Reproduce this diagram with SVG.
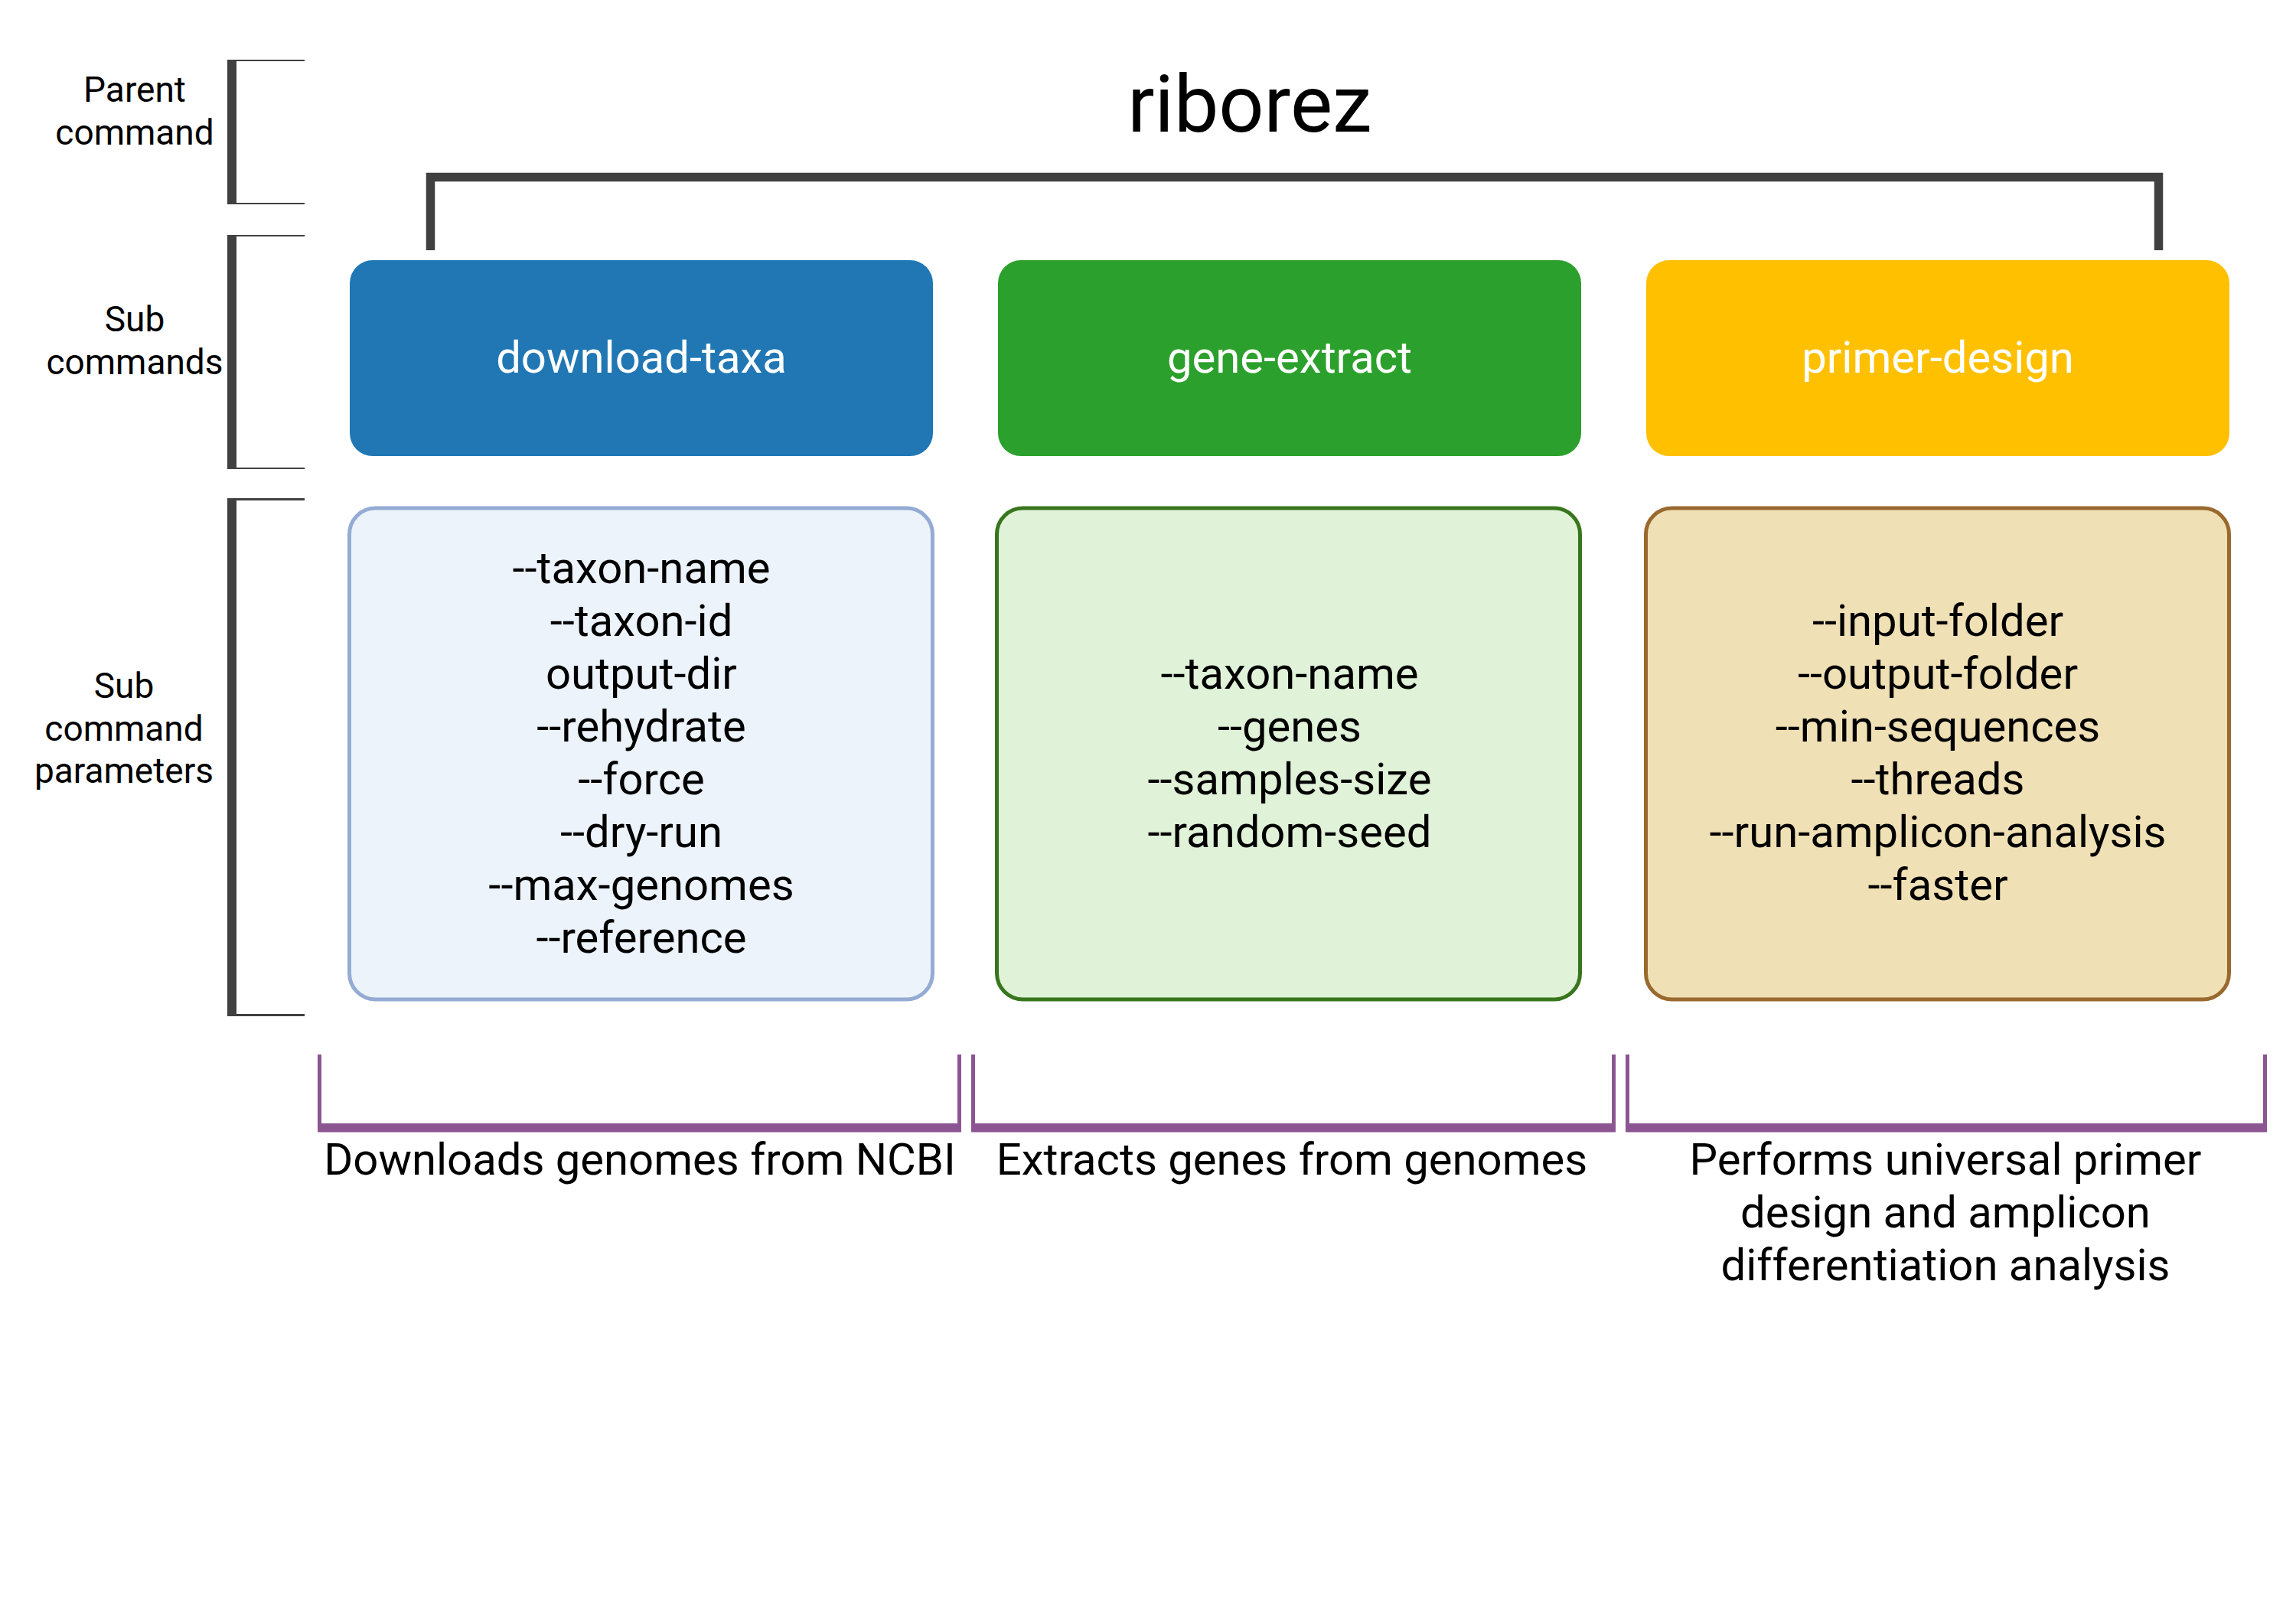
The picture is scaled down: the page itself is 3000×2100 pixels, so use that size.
<svg xmlns="http://www.w3.org/2000/svg" width="3000" height="2100" viewBox="0 0 3000 2100">
<style>
text { font-family: Roboto, "Liberation Sans", sans-serif; text-anchor: middle; }
.side { font-size: 46px; fill: #000; }
.title { font-size: 104px; fill: #000; }
.cmd { font-size: 58px; fill: #fff; }
.param { font-size: 58px; fill: #000; }
.desc { font-size: 58px; fill: #000; }
.brk { fill: none; stroke: #404040; }
.pbar { fill: #8B5591; }
</style>
<rect x="0" y="0" width="3000" height="2100" fill="#fff"/>

<g id="side-labels">
  <g id="bracket-parent">
    <rect x="297" y="78" width="12" height="189" fill="#404040"/>
    <line class="brk" x1="297" y1="79" x2="398" y2="79" stroke-width="2"/>
    <line class="brk" x1="297" y1="266" x2="398" y2="266" stroke-width="2"/>
    <text class="side" x="176" y="133">Parent</text>
    <text class="side" x="176" y="189">command</text>
  </g>
  <g id="bracket-sub">
    <rect x="297" y="307" width="12" height="306" fill="#404040"/>
    <line class="brk" x1="297" y1="308" x2="398" y2="308" stroke-width="2"/>
    <line class="brk" x1="297" y1="612" x2="398" y2="612" stroke-width="2"/>
    <text class="side" x="176" y="433">Sub</text>
    <text class="side" x="176" y="489">commands</text>
  </g>
  <g id="bracket-params">
    <rect x="297" y="651" width="12" height="677" fill="#404040"/>
    <line class="brk" x1="297" y1="652.5" x2="398" y2="652.5" stroke-width="3"/>
    <line class="brk" x1="297" y1="1326.5" x2="398" y2="1326.5" stroke-width="3"/>
    <text class="side" x="162" y="912">Sub</text>
    <text class="side" x="162" y="968">command</text>
    <text class="side" x="162" y="1023">parameters</text>
  </g>
</g>

<g id="title">
  <text class="title" x="1633" y="172">riborez</text>
</g>

<g id="connectors">
  <path d="M562.5 327 V231.5 H2820.5 V327" fill="none" stroke="#404040" stroke-width="11.5" stroke-linejoin="miter"/>
</g>

<g id="download-taxa">
  <rect x="457" y="340" width="762" height="256" rx="30" fill="#2077B4"/>
  <text class="cmd" x="838" y="487">download-taxa</text>
</g>
<g id="gene-extract">
  <rect x="1304" y="340" width="762" height="256" rx="30" fill="#2CA02C"/>
  <text class="cmd" x="1685" y="487">gene-extract</text>
</g>
<g id="primer-design">
  <rect x="2151" y="340" width="762" height="256" rx="30" fill="#FFC000"/>
  <text class="cmd" x="2532" y="487">primer-design</text>
</g>

<g id="download-taxa-params">
  <rect x="456.5" y="664" width="762" height="642" rx="34" fill="#ECF3FB" stroke="#94ABD4" stroke-width="5"/>
  <text class="param" x="838" y="762">--taxon-name</text>
  <text class="param" x="838" y="831">--taxon-id</text>
  <text class="param" x="838" y="900">output-dir</text>
  <text class="param" x="838" y="969">--rehydrate</text>
  <text class="param" x="838" y="1038">--force</text>
  <text class="param" x="838" y="1107">--dry-run</text>
  <text class="param" x="838" y="1176">--max-genomes</text>
  <text class="param" x="838" y="1245">--reference</text>
</g>
<g id="gene-extract-params">
  <rect x="1302.5" y="664" width="762" height="642" rx="34" fill="#E0F2D8" stroke="#38761D" stroke-width="5"/>
  <text class="param" x="1685" y="900">--taxon-name</text>
  <text class="param" x="1685" y="969">--genes</text>
  <text class="param" x="1685" y="1038">--samples-size</text>
  <text class="param" x="1685" y="1107">--random-seed</text>
</g>
<g id="primer-design-params">
  <rect x="2150.5" y="664" width="762" height="642" rx="34" fill="#F0E0B5" stroke="#99692E" stroke-width="5"/>
  <text class="param" x="2532" y="831">--input-folder</text>
  <text class="param" x="2532" y="900">--output-folder</text>
  <text class="param" x="2532" y="969">--min-sequences</text>
  <text class="param" x="2532" y="1038">--threads</text>
  <text class="param" x="2532" y="1107">--run-amplicon-analysis</text>
  <text class="param" x="2532" y="1176">--faster</text>
</g>

<g id="desc-download">
  <rect class="pbar" x="415" y="1378" width="5" height="101"/>
  <rect class="pbar" x="1251" y="1378" width="5" height="101"/>
  <rect class="pbar" x="415" y="1468" width="841" height="11.5"/>
  <text class="desc" x="836" y="1535">Downloads genomes from NCBI</text>
</g>
<g id="desc-extract">
  <rect class="pbar" x="1269" y="1378" width="5" height="101"/>
  <rect class="pbar" x="2106" y="1378" width="5" height="101"/>
  <rect class="pbar" x="1269" y="1468" width="842" height="11.5"/>
  <text class="desc" x="1688" y="1535">Extracts genes from genomes</text>
</g>
<g id="desc-primer">
  <rect class="pbar" x="2124" y="1378" width="5" height="101"/>
  <rect class="pbar" x="2957" y="1378" width="5" height="101"/>
  <rect class="pbar" x="2124" y="1468" width="838" height="11.5"/>
  <text class="desc" x="2542" y="1535">Performs universal primer</text>
  <text class="desc" x="2542" y="1604">design and amplicon</text>
  <text class="desc" x="2542" y="1673">differentiation analysis</text>
</g>
</svg>
